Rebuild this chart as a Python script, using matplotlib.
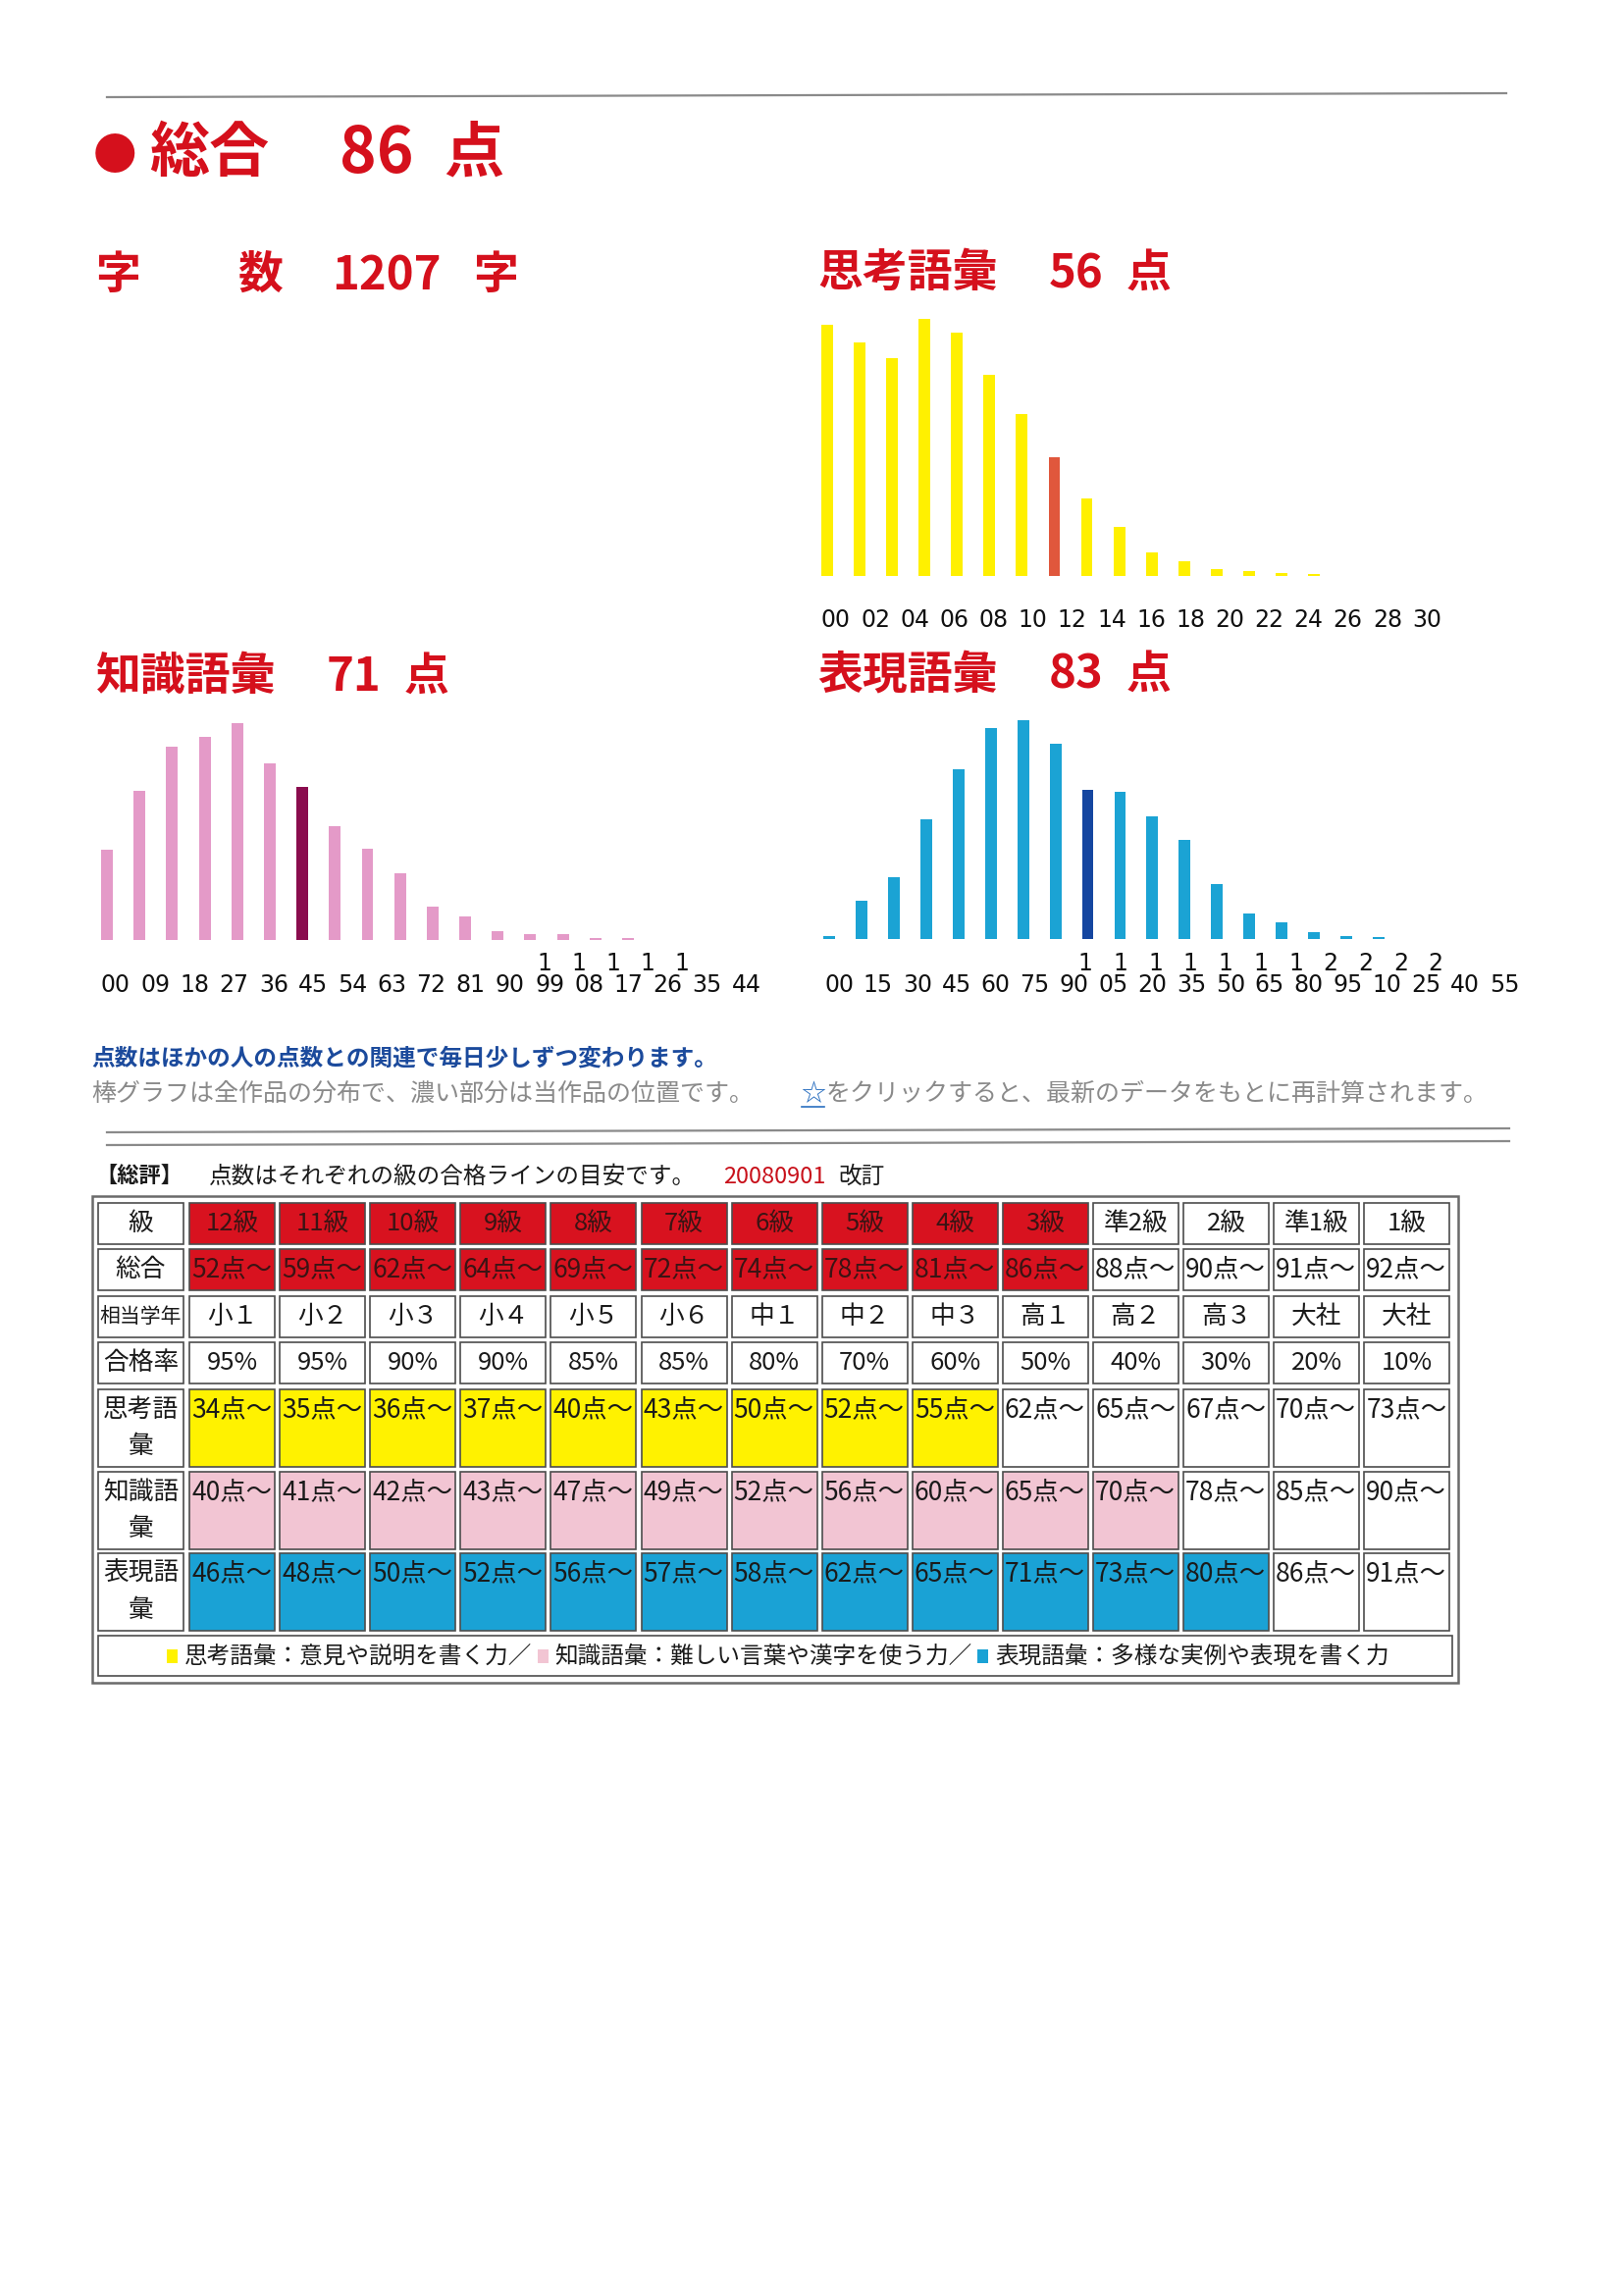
import matplotlib
matplotlib.use('Agg')
import matplotlib.pyplot as plt
from matplotlib.patches import Rectangle

W, H, DPI = 1654, 2340, 100
JP = ['Noto Sans CJK JP', 'DejaVu Sans']
plt.rcParams['font.family'] = JP

# ---------------- data ----------------
total_score = 86
char_count = 1207
think_score = 56
know_score = 71
expr_score = 83

think_counts = [765, 712, 665, 784, 743, 612, 493, 362, 237, 150, 73, 44, 20, 15, 10, 5]
think_pos = 7
think_ticks = [0, 2, 4, 6, 8, 10, 12, 14, 16, 18, 20, 22, 24, 26, 28, 30]

know_counts = [278, 459, 595, 626, 668, 543, 472, 352, 282, 206, 104, 74, 27, 17, 18, 6, 6]
know_pos = 6
know_ticks = [0, 9, 18, 27, 36, 45, 54, 63, 72, 81, 90, 99, 108, 117, 126, 135, 144]

expr_counts = [10, 118, 190, 368, 523, 649, 673, 601, 459, 454, 377, 305, 168, 79, 50, 21, 10, 5]
expr_pos = 8
expr_ticks = [0, 15, 30, 45, 60, 75, 90, 105, 120, 135, 150, 165, 180, 195, 210, 225, 240, 255]

grades = ['12級', '11級', '10級', '9級', '8級', '7級', '6級', '5級', '4級', '3級',
          '準2級', '2級', '準1級', '1級']
total_thr = [52, 59, 62, 64, 69, 72, 74, 78, 81, 86, 88, 90, 91, 92]
school_years = ['小１', '小２', '小３', '小４', '小５', '小６', '中１', '中２', '中３',
                '高１', '高２', '高３', '大社', '大社']
pass_rates = [95, 95, 90, 90, 85, 85, 80, 70, 60, 50, 40, 30, 20, 10]
think_thr = [34, 35, 36, 37, 40, 43, 50, 52, 55, 62, 65, 67, 70, 73]
know_thr = [40, 41, 42, 43, 47, 49, 52, 56, 60, 65, 70, 78, 85, 90]
expr_thr = [46, 48, 50, 52, 56, 57, 58, 62, 65, 71, 73, 80, 86, 91]

# ---------------- styles ----------------
RED = '#D5101C'
TXT = '#1a1a1a'
YEL = '#FFF200'
PINK_CELL = '#F2C5D3'
BLUE_CELL = '#1AA2D5'
CELL_RED = '#D8121F'

fig = plt.figure(figsize=(W / DPI, H / DPI), dpi=DPI)
page = fig.add_axes([0, 0, 1, 1])
page.set_xlim(0, W)
page.set_ylim(H, 0)
page.axis('off')


def px_axes(x0, y0, x1, y1):
    return fig.add_axes([x0 / W, 1 - y1 / H, (x1 - x0) / W, (y1 - y0) / H])


def t(x, y, s, size, color=TXT, weight='normal', ha='left', va='center', family=JP):
    page.text(x, y, s, fontsize=size, color=color, fontweight=weight, ha=ha, va=va,
              family=family)


# top rule
page.plot([109, 1535], [99, 95], color='#8a8a8a', lw=1.6)

# titles
t(95, 160, '●', 32, RED, 'bold')
t(152, 157, '総合', 44, RED, 'bold')
t(346, 157, f'{total_score}', 46, RED, 'bold')
t(452, 157, '点', 44, RED, 'bold')

t(97, 281, '字', 33, RED, 'bold')
t(242, 281, '数', 33, RED, 'bold')
t(338, 281, f'{char_count}', 34, RED, 'bold')
t(482, 281, '字', 33, RED, 'bold')

for (x, y, name, score) in [(833, 279, '思考語彙', think_score),
                            (97, 690, '知識語彙', know_score),
                            (833, 688, '表現語彙', expr_score)]:
    t(x, y, name, 33, RED, 'bold')
    t(x + 236, y, f'{score}', 34, RED, 'bold')
    t(x + 315, y, '点', 33, RED, 'bold')


def bar_chart(counts, pos, color, hl, box, ticks, lab_x, lab_y, upper=None):
    ax = px_axes(*box)
    n = len(counts)
    xs = list(range(n))
    cols = [hl if i == pos else color for i in xs]
    ax.bar(xs, counts, width=0.36, color=cols, linewidth=0)
    ax.set_xlim(-0.5, n - 0.5)
    ax.set_ylim(0, max(counts))
    ax.axis('off')
    lx0, lx1 = lab_x
    step = (lx1 - lx0) / (len(ticks) - 1)
    for i, v in enumerate(ticks):
        t(lx0 + i * step, lab_y, f'{v % 100:02d}', 17, '#111111', ha='center',
          family=['DejaVu Sans'])
    if upper:
        start, st = upper
        hundreds = [v // 100 for v in ticks if v >= 100]
        for j, h in enumerate(hundreds):
            t(lx0 + (start + st * j) * step, lab_y - 22, str(h), 17, '#111111',
              ha='center', family=['DejaVu Sans'])


bar_chart(think_counts, think_pos, '#FFF000', '#E0573C', (826.5, 325, 1355.5, 587),
          think_ticks, (852, 1454), 632)
bar_chart(know_counts, know_pos, '#E49AC8', '#8A0C4E', (92.4, 737, 656.6, 958),
          know_ticks, (118, 761), 1004, upper=(10.87, 0.87))
bar_chart(expr_counts, expr_pos, '#1BA3D4', '#1546A0', (828.5, 734, 1421.5, 957),
          expr_ticks, (855, 1533), 1004, upper=(6.30, 0.895))

# notes
t(93, 1079, '点数はほかの人の点数との関連で毎日少しずつ変わります。', 17, '#1b4a9c', 'bold')
t(93, 1115, '棒グラフは全作品の分布で、濃い部分は当作品の位置です。', 18, '#8a8a8a')
t(816, 1115, '☆', 18, '#2a6fc0')
page.plot([817, 840], [1128, 1128], color='#2a6fc0', lw=1.2)
t(842, 1115, 'をクリックすると、最新のデータをもとに再計算されます。', 18, '#8a8a8a')

page.plot([109, 1538], [1154, 1150], color='#8a8a8a', lw=1.6)
page.plot([109, 1538], [1167, 1163], color='#8a8a8a', lw=1.6)

# table header
t(97, 1199, '【総評】', 16, TXT, 'bold')
t(213, 1199, '点数はそれぞれの級の合格ラインの目安です。', 17, TXT)
t(737, 1199, '20080901', 17, '#C8101A')
t(854, 1199, '改訂', 17, TXT)

# table
page.add_patch(Rectangle((94, 1219), 1392, 496, facecolor='white', edgecolor='#6a6a6a', lw=1.8))

row_tops = [1226, 1273, 1321, 1368, 1416, 1500, 1583]
row_h = [42, 42, 42, 42, 79, 79, 79]
COL0, PITCH, CW = 193, 92.1, 87
EDGE = '#4d4d4d'


def cell(x, y, w, h, face):
    page.add_patch(Rectangle((x, y), w, h, facecolor=face, edgecolor=EDGE, lw=1.2))


rows = [
    ('級', grades, [total_score >= v for v in total_thr], CELL_RED, 'center'),
    ('総合', [f'{v}点～' for v in total_thr], [total_score >= v for v in total_thr], CELL_RED, 'left'),
    ('相当学年', school_years, [False] * 14, None, 'center'),
    ('合格率', [f'{v}%' for v in pass_rates], [False] * 14, None, 'center'),
    ('思考語\n彙', [f'{v}点～' for v in think_thr], [think_score >= v for v in think_thr], YEL, 'left'),
    ('知識語\n彙', [f'{v}点～' for v in know_thr], [know_score >= v for v in know_thr], PINK_CELL, 'left'),
    ('表現語\n彙', [f'{v}点～' for v in expr_thr], [expr_score >= v for v in expr_thr], BLUE_CELL, 'left'),
]

for r, (label, vals, hit, hcol, align) in enumerate(rows):
    y0, h = row_tops[r], row_h[r]
    cell(100, y0, 87, h, 'white')
    if '\n' in label:
        a, b = label.split('\n')
        t(143.5, y0 + 21, a, 18.5, TXT, ha='center')
        t(143.5, y0 + 58, b, 18.5, TXT, ha='center')
    else:
        t(143.5, y0 + h / 2, label, 15 if len(label) > 3 else 18.5, TXT, ha='center')
    for k, v in enumerate(vals):
        x0 = COL0 + k * PITCH
        face = hcol if hit[k] else 'white'
        cell(x0, y0, CW, h, face)
        color = '#3a1414' if (hit[k] and hcol == CELL_RED) else TXT
        ty = y0 + (21 if h > 50 else h / 2)
        if align == 'left':
            t(x0 + 2, ty, v, 19, color, ha='left')
        else:
            t(x0 + CW / 2, ty, v, 18.5, color, ha='center')

# legend row
cell(100, 1667, 1380, 41, 'white')
em = 17 * DPI / 72
x = 164
segments = [(YEL, '思考語彙：意見や説明を書く力／'),
            (PINK_CELL, '知識語彙：難しい言葉や漢字を使う力／'),
            (BLUE_CELL, '表現語彙：多様な実例や表現を書く力')]
for col, s in segments:
    page.add_patch(Rectangle((x + 6, 1681), 11, 14, facecolor=col, edgecolor='none'))
    x += em
    t(x, 1688, s, 17, TXT)
    x += em * len(s)

fig.savefig('out.png', dpi=DPI)
